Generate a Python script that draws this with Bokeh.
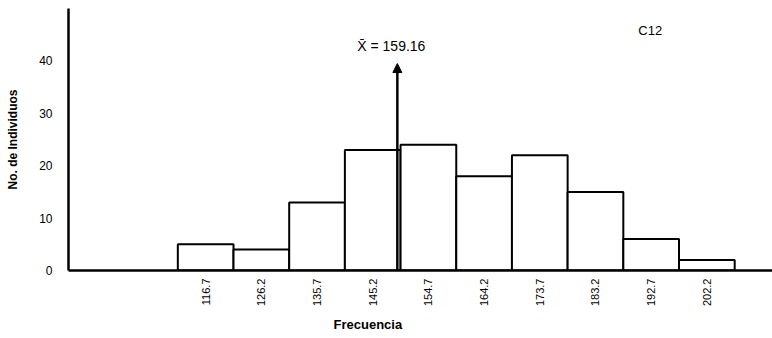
import math
from bokeh.plotting import figure
from bokeh.models import Range1d, FixedTicker, Label, Arrow, NormalHead, Title
from bokeh.embed import file_html
from bokeh.resources import INLINE

# ---- data ----
midpoints = [116.7, 126.2, 135.7, 145.2, 154.7, 164.2, 173.7, 183.2, 192.7, 202.2]
tick_labels = ["116.7", "126.2", "135.7", "145.2", "154.7", "164.2", "173.7", "183.2", "192.7", "202.2"]
counts = [5, 4, 13, 23, 24, 18, 22, 15, 6, 2]
class_width = 9.5
y_ticks = [0, 10, 20, 30, 40]
mean_text = "X\u0304 = 159.16"
arrow_x = 149.4
arrow_top = 39.5
panel_title = "C12"
x_title = "Frecuencia"
y_title = "No. de Individuos"

lefts = [m - class_width / 2 for m in midpoints]
rights = [m + class_width / 2 for m in midpoints]

FONT = "Liberation Sans"

p = figure(width=772, height=338, output_backend="svg", toolbar_location=None,
           x_range=Range1d(93.3, 213.4), y_range=Range1d(0, 50),
           min_border_left=68, min_border_right=0, min_border_top=8,
           min_border_bottom=68)
p.outline_line_color = None
p.xgrid.visible = False
p.ygrid.visible = False
p.background_fill_color = "white"
p.border_fill_color = "white"

p.quad(left=lefts, right=rights, top=counts, bottom=0,
       fill_color="white", line_color="black", line_width=2)

p.add_layout(Arrow(end=NormalHead(size=9, fill_color="black", line_color="black", line_width=1),
                   x_start=arrow_x, y_start=0, x_end=arrow_x, y_end=arrow_top,
                   line_color="black", line_width=2.5))

# axes
xa = p.xaxis[0]
xa.ticker = FixedTicker(ticks=midpoints)
xa.major_label_overrides = {m: t for m, t in zip(midpoints, tick_labels)}
xa.major_label_orientation = math.pi / 2
xa.major_tick_line_color = None
xa.minor_tick_line_color = None
xa.axis_line_width = 2.5
xa.axis_line_color = "black"
xa.major_label_text_font = FONT
xa.major_label_text_font_size = "11px"
xa.major_label_text_color = "black"
xa.major_label_standoff = 2

ya = p.yaxis[0]
ya.ticker = FixedTicker(ticks=y_ticks)
ya.major_tick_line_color = None
ya.minor_tick_line_color = None
ya.axis_line_width = 2.5
ya.axis_line_color = "black"
ya.major_label_text_font = FONT
ya.major_label_text_font_size = "12px"
ya.major_label_text_color = "black"
ya.major_label_standoff = 10
ya.axis_label = y_title
ya.axis_label_text_font = FONT
ya.axis_label_text_font_style = "bold"
ya.axis_label_text_font_size = "12px"
ya.axis_label_text_color = "black"
ya.axis_label_standoff = 16

p.add_layout(Title(text=x_title, align="left", offset=265, standoff=11,
                   text_font=FONT, text_font_style="bold", text_font_size="13px",
                   text_color="black"), "below")
p.add_layout(Label(x=arrow_x, y=42.9, x_offset=-6, text=mean_text, text_align="center",
                   text_baseline="middle", text_font=FONT,
                   text_font_size="14px", text_color="black"))
p.add_layout(Label(x=190.5, y=45.8, text=panel_title, text_align="left",
                   text_baseline="middle", text_font=FONT,
                   text_font_size="13px", text_color="black"))

open("out.html", "w").write(file_html(p, INLINE))
